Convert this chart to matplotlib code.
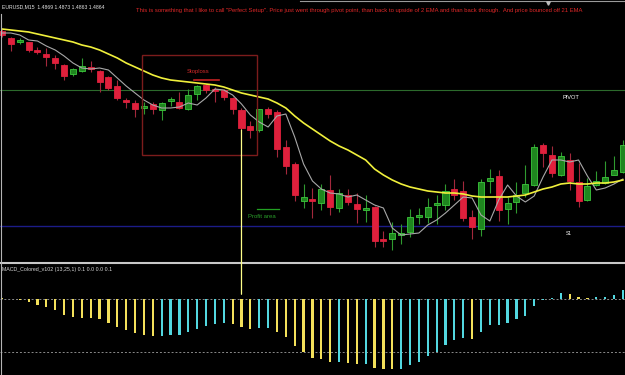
import numpy as np
import matplotlib
matplotlib.use("Agg")
import matplotlib.pyplot as plt
from matplotlib.patches import Rectangle, ConnectionPatch
from matplotlib.lines import Line2D
from matplotlib import font_manager as fm

# ---------------- data (prices as 1 + points * 0.0001) ----------------
OPEN_PTS = [4869, 4862, 4858, 4858, 4850, 4846, 4842, 4835, 4826, 4829,
            4833, 4829, 4823, 4814, 4800, 4797, 4792, 4796, 4790, 4799,
            4798, 4791, 4806, 4815, 4811, 4810, 4802, 4790, 4774, 4770,
            4791, 4788, 4753, 4736, 4699, 4701, 4697, 4710, 4692, 4705,
            4696, 4690, 4693, 4661, 4661, 4665, 4668, 4683, 4683, 4695,
            4695, 4711, 4709, 4683, 4671, 4719, 4724, 4691, 4698, 4707,
            4715, 4755, 4745, 4725, 4740, 4718, 4700, 4715, 4717, 4725,
            4728]
HIGH_PTS = [4871, 4863, 4862, 4858, 4853, 4852, 4845, 4836, 4832, 4842,
            4839, 4830, 4824, 4820, 4802, 4800, 4798, 4798, 4798, 4803,
            4808, 4811, 4815, 4816, 4813, 4811, 4803, 4792, 4779, 4791,
            4793, 4790, 4760, 4738, 4716, 4712, 4716, 4725, 4711, 4711,
            4707, 4705, 4694, 4669, 4678, 4676, 4691, 4692, 4702, 4705,
            4716, 4721, 4719, 4690, 4721, 4731, 4730, 4703, 4718, 4735,
            4756, 4757, 4754, 4748, 4747, 4737, 4722, 4729, 4739, 4744,
            4760]
LOW_PTS = [4863, 4849, 4856, 4848, 4846, 4834, 4831, 4820, 4824, 4828,
           4828, 4808, 4810, 4800, 4792, 4783, 4786, 4786, 4780, 4794,
           4791, 4790, 4800, 4807, 4798, 4800, 4786, 4770, 4762, 4768,
           4782, 4743, 4726, 4699, 4692, 4682, 4690, 4685, 4688, 4695,
           4677, 4678, 4653, 4653, 4650, 4656, 4663, 4676, 4677, 4676,
           4690, 4700, 4679, 4661, 4664, 4707, 4679, 4676, 4687, 4703,
           4714, 4733, 4723, 4724, 4710, 4693, 4699, 4714, 4716, 4725,
           4727]
CLOSE_PTS = [4865, 4856, 4860, 4850, 4848, 4843, 4837, 4824, 4831, 4834,
             4831, 4818, 4812, 4802, 4798, 4791, 4794, 4791, 4797, 4801,
             4792, 4805, 4814, 4810, 4809, 4803, 4791, 4772, 4770, 4791,
             4786, 4751, 4734, 4705, 4703, 4699, 4711, 4693, 4707, 4698,
             4691, 4692, 4659, 4659, 4667, 4667, 4683, 4685, 4693, 4697,
             4709, 4705, 4682, 4673, 4718, 4722, 4690, 4697, 4705, 4716,
             4753, 4747, 4727, 4744, 4719, 4699, 4714, 4719, 4723, 4730,
             4755]
EMA21_PTS = [4871, 4870, 4869, 4868, 4866, 4864, 4862, 4860, 4858, 4855,
             4853, 4850, 4846, 4842, 4837, 4833, 4829, 4825, 4822, 4820,
             4819, 4818, 4817, 4816, 4815, 4813, 4810, 4807, 4805, 4803,
             4801, 4797, 4792, 4784, 4777, 4771, 4765, 4759, 4754, 4750,
             4745, 4740, 4731, 4725, 4720, 4716, 4713, 4711, 4709, 4708,
             4707, 4707, 4706, 4704, 4703, 4703, 4703, 4703, 4704, 4705,
             4708, 4711, 4713, 4716, 4717, 4716, 4716, 4717, 4717, 4718,
             4720]
EMA_FAST_PTS = [4867, 4867, 4865, 4860, 4859, 4854, 4850, 4844, 4837, 4832,
                4831, 4832, 4830, 4822, 4814, 4807, 4800, 4795, 4792, 4792,
                4793, 4797, 4795, 4802, 4811, 4810, 4805, 4796, 4785, 4778,
                4773, 4784, 4786, 4763, 4736, 4719, 4711, 4707, 4706, 4703,
                4705, 4700, 4695, 4692, 4672, 4665, 4666, 4667, 4675, 4680,
                4687, 4695, 4703, 4702, 4685, 4679, 4700, 4715, 4704, 4698,
                4704, 4723, 4740, 4740, 4738, 4740, 4724, 4710, 4712, 4716,
                4721]
# MACD histogram (points of 0.00001)
MACD_HIST = [1.0, 0.0, -0.5, -3.3, -6.0, -8.3, -11.3, -16.0, -17.7, -18.7,
             -19.3, -20.3, -24.3, -27.7, -31.3, -34.0, -36.0, -37.0, -36.7, -36.0,
             -36.0, -33.3, -30.0, -27.3, -24.7, -24.0, -24.7, -27.7, -30.0, -28.7,
             -28.7, -32.7, -38.0, -46.7, -53.3, -58.7, -60.0, -63.3, -63.0, -64.3,
             -64.7, -64.5, -68.7, -70.0, -70.0, -69.7, -66.0, -62.7, -57.3, -52.7,
             -46.0, -41.0, -39.3, -40.0, -32.7, -26.0, -26.0, -23.7, -20.3, -16.7,
             -7.0, -0.5, 1.3, 6.0, 5.0, 1.7, 1.0, 2.0, 2.3, 4.0,
             9.3]
# Y = falling (yellow), C = rising (cyan)
MACD_STATE = ("YYYYYYYYYYYYYYYYYY" "CCCCCCCC" "YYY" "CC" "YYYYYYY" "C" "YY" "C"
              "YYY" "CCCCCCCC" "Y" "CCCCCCCCCC" "YYY" "CCCC")
MACD_LEVEL = -53.0

PIVOT_PTS = 4810
S1_PTS = 4674
STOPLOSS_PTS = 4820
PROFIT_PTS = 4691
BOX_TOP_PTS, BOX_BOTTOM_PTS = 4845, 4745
VLINE_BAR = 27
VLINE_MACD_END = 4.7

TITLE = "EURUSD,M15  1.4869 1.4873 1.4863 1.4864"
NOTE = ('This is something that I like to call "Perfect Setup". Price just went through pivot point, '
        'than back to upside of 2 EMA and than back through.  And price bounced off 21 EMA')
MACD_LABEL = "MACD_Colored_v102 (13,25,1) 0.1 0.0 0.0 0.1"

# ---------------- conversions ----------------
P = lambda a: 1.0 + np.asarray(a, dtype=float) / 1e4
OPEN, HIGH, LOW, CLOSE = P(OPEN_PTS), P(HIGH_PTS), P(LOW_PTS), P(CLOSE_PTS)
EMA21, EMAF = P(EMA21_PTS), P(EMA_FAST_PTS)
MACD = np.asarray(MACD_HIST)

# ---------------- figure / layout ----------------
W, H = 625, 375
fig = plt.figure(figsize=(W / 100, H / 100), dpi=100, facecolor="black")
fx = lambda px: px / W
fy = lambda py: 1 - py / H

MAIN_BOT = 261
SUB_TOP = 264
ax = fig.add_axes([0, fy(MAIN_BOT), 1, MAIN_BOT / H])
sub = fig.add_axes([0, 0, 1, (H - SUB_TOP) / H])
for a in (ax, sub):
    a.set_facecolor("black")
    a.set_axis_off()

X_LEFT, X_STEP = 2.0, 8.87
xlim = (-X_LEFT / X_STEP, (W - X_LEFT) / X_STEP)
ax.set_xlim(*xlim)
sub.set_xlim(*xlim)
ax.set_ylim(1.4900 - MAIN_BOT / 1e4, 1.4900)
sub.set_ylim(-(H - 299), 299 - SUB_TOP)

names = {f.name for f in fm.fontManager.ttflist}
FONT = "Liberation Sans Narrow" if "Liberation Sans Narrow" in names else "Liberation Sans"

# ---------------- main chart ----------------
idx = np.arange(len(OPEN))
up = CLOSE > OPEN
ax.axhline(P(PIVOT_PTS), color="#2c6a2c", lw=0.8, zorder=1)
ax.axhline(P(S1_PTS), color="#1c1c88", lw=1.0, zorder=1)

wick_cols = np.where(up, "#2f9a2f", "#a3283c")
ax.vlines(idx, LOW, HIGH, colors=wick_cols, lw=0.8, zorder=2)
hmin = 0.00012
body_h = np.maximum(np.abs(CLOSE - OPEN), hmin)
body_lo = (OPEN + CLOSE) / 2 - body_h / 2
ax.bar(idx, body_h, bottom=body_lo, width=0.68,
       color=np.where(up, "#1f861f", "#e0203c"),
       edgecolor=np.where(up, "#3dc83d", "#e0203c"), linewidth=0.6, zorder=3)

ax.plot(idx, EMAF, color="#a8a8a8", lw=0.8, zorder=4)
ax.plot(idx, EMA21, color="#f0f03c", lw=1.2, zorder=5)

bx0 = (142 - X_LEFT) / X_STEP
bx1 = (257 - X_LEFT) / X_STEP
ax.add_patch(Rectangle((bx0, P(BOX_BOTTOM_PTS)), bx1 - bx0, P(BOX_TOP_PTS) - P(BOX_BOTTOM_PTS),
                       fill=False, ec="#7c1c1c", lw=1.0, zorder=6))
ax.plot([(194 - X_LEFT) / X_STEP, (219 - X_LEFT) / X_STEP], [P(STOPLOSS_PTS)] * 2,
        color="#c42222", lw=1.2, zorder=6)
ax.plot([(257 - X_LEFT) / X_STEP, (279 - X_LEFT) / X_STEP], [P(PROFIT_PTS)] * 2,
        color="#22a022", lw=0.9, zorder=6)

texts = []
def add_text(t, width):
    texts.append((t, width))
    return t

add_text(ax.text((198 - X_LEFT) / X_STEP, P(4829), "Stoploss", color="#d22a2a",
                 ha="center", va="center", family=FONT, fontsize=5), 23)
add_text(ax.text((262 - X_LEFT) / X_STEP, P(4684), "Profit area", color="#2a9e2a",
                 ha="center", va="center", family=FONT, fontsize=5), 28)
add_text(ax.text((571 - X_LEFT) / X_STEP, P(4803), "PIVOT", color="white",
                 ha="center", va="center", family=FONT, fontsize=5), 17)
add_text(ax.text((569 - X_LEFT) / X_STEP, P(4667), "S1", color="white",
                 ha="center", va="center", family=FONT, fontsize=5), 6)

add_text(fig.text(fx(2), fy(6.5), TITLE, color="#e6e6e6", ha="left", va="center",
                  family=FONT, fontsize=5), 105)
add_text(fig.text(fx(136), fy(10.5), NOTE, color="#e02828", ha="left", va="center",
                  family=FONT, fontsize=5), 456)
add_text(fig.text(fx(2), fy(269), MACD_LABEL, color="#d8d8d8", ha="left", va="center",
                  family=FONT, fontsize=5), 110)

# ---------------- MACD panel ----------------
sub.axhline(0, color="#8a8a8a", lw=0.7, ls=(0, (2, 2)), zorder=1)
sub.axhline(MACD_LEVEL, color="#8a8a8a", lw=0.7, ls=(0, (2, 2)), zorder=1)
bar_cols = ["#f3e05a" if s == "Y" else "#52d8e0" for s in MACD_STATE]
sub.bar(idx, MACD, width=0.25, color=bar_cols, zorder=2)

# vertical marker line from the signal candle down into the MACD panel
con = ConnectionPatch(xyA=(VLINE_BAR, LOW[VLINE_BAR]), coordsA=ax.transData,
                      xyB=(VLINE_BAR, VLINE_MACD_END), coordsB=sub.transData,
                      color="#ffff8a", lw=0.9, zorder=10)
fig.add_artist(con)

# window decorations
fig.add_artist(Line2D([0, 1], [fy(262.5)] * 2, transform=fig.transFigure,
                      color="#c8c8c8", lw=1.5))
fig.add_artist(Line2D([fx(0.8)] * 2, [fy(14), 0], transform=fig.transFigure,
                      color="#b4b4b4", lw=0.8))
fig.add_artist(Line2D([fx(300), 1], [fy(0.6)] * 2, transform=fig.transFigure,
                      color="#9a9a9a", lw=0.8))
fig.add_artist(Line2D([fx(548)], [fy(2.5)], transform=fig.transFigure, marker="v",
                      markersize=2.5, color="#bcbcbc", lw=0))

# fit text widths to the reference
fig.canvas.draw()
r = fig.canvas.get_renderer()
for t, w in texts:
    bb = t.get_window_extent(r)
    if bb.width > 0:
        t.set_fontsize(t.get_fontsize() * w / bb.width)

fig.savefig("out.png", dpi=100, facecolor="black")
